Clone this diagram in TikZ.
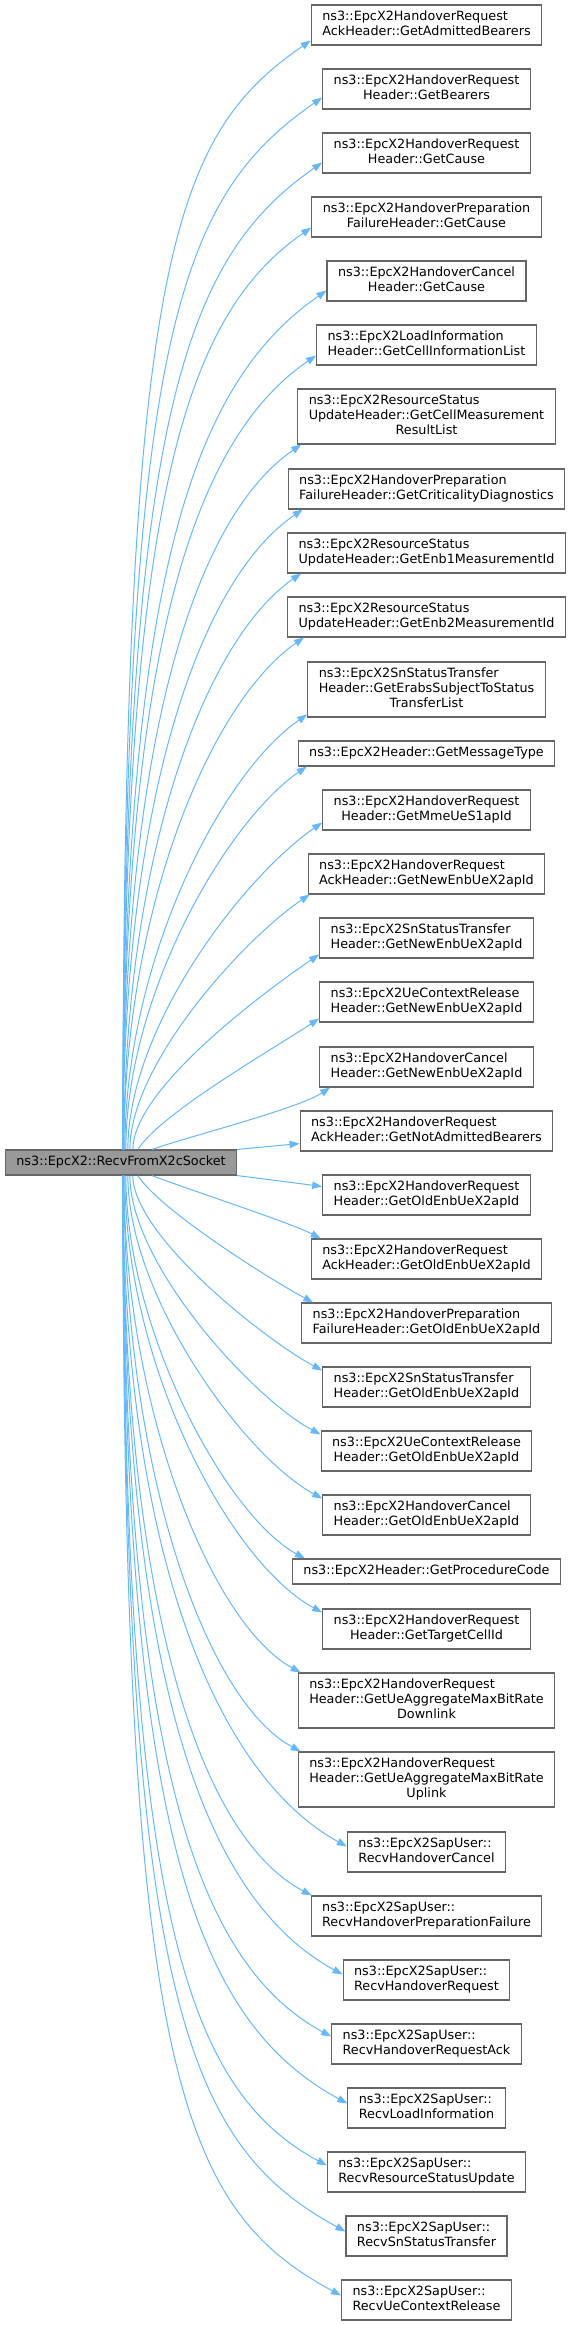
\documentclass[tikz,border=0pt]{standalone}
\usepackage{fontspec}
\setmainfont{DejaVu Sans}
\usetikzlibrary{arrows.meta,calc}
\definecolor{edgeblue}{HTML}{63B8FF}
\definecolor{nodeborder}{HTML}{666666}
\definecolor{mainfill}{HTML}{999999}
\newcommand\dxtwo[2]{\begin{tabular}{@{}l@{}}#1\\\multicolumn{1}{@{}c@{}}{#2}\end{tabular}}
\newcommand\dxone[1]{\begin{tabular}{@{}c@{}}#1\end{tabular}}
\begin{document}
\begin{tikzpicture}[x=0.75pt,y=-0.75pt,
  dxnode/.style={draw=nodeborder,fill=white,line width=0.8pt,inner xsep=8.25pt,inner ysep=3.75pt,
    font=\fontsize{9.58pt}{11.25pt}\selectfont},
  dxmain/.style={dxnode,fill=mainfill},
  dxedge/.style={draw=edgeblue,line width=0.75pt,-{Triangle[length=7.5pt,width=5.5pt]}}]
\useasboundingbox (0,0) rectangle (573,2325);
\node[dxmain] (m) at (121,1162.5) {\dxone{ns3::EpcX2::RecvFromX2cSocket}};
\node[dxnode] (b1) at (426.5,25) {\dxtwo{ns3::EpcX2HandoverRequest}{AckHeader::GetAdmittedBearers}};
\node[dxnode] (b2) at (426.5,89) {\dxtwo{ns3::EpcX2HandoverRequest}{Header::GetBearers}};
\node[dxnode] (b3) at (426.5,153) {\dxtwo{ns3::EpcX2HandoverRequest}{Header::GetCause}};
\node[dxnode] (b4) at (426.5,217) {\dxtwo{ns3::EpcX2HandoverPreparation}{FailureHeader::GetCause}};
\node[dxnode] (b5) at (426.5,281) {\dxtwo{ns3::EpcX2HandoverCancel}{Header::GetCause}};
\node[dxnode] (b6) at (426.5,345) {\dxtwo{ns3::EpcX2LoadInformation}{Header::GetCellInformationList}};
\node[dxnode] (b7) at (426.5,416.5) {\dxtwo{ns3::EpcX2ResourceStatus\\UpdateHeader::GetCellMeasurement}{ResultList}};
\node[dxnode] (b8) at (426.5,489) {\dxtwo{ns3::EpcX2HandoverPreparation}{FailureHeader::GetCriticalityDiagnostics}};
\node[dxnode] (b9) at (426.5,553) {\dxtwo{ns3::EpcX2ResourceStatus}{UpdateHeader::GetEnb1MeasurementId}};
\node[dxnode] (b10) at (426.5,617) {\dxtwo{ns3::EpcX2ResourceStatus}{UpdateHeader::GetEnb2MeasurementId}};
\node[dxnode] (b11) at (426.5,689.5) {\dxtwo{ns3::EpcX2SnStatusTransfer\\Header::GetErabsSubjectToStatus}{TransferList}};
\node[dxnode] (b12) at (426.5,753.5) {\dxone{ns3::EpcX2Header::GetMessageType}};
\node[dxnode] (b13) at (426.5,810) {\dxtwo{ns3::EpcX2HandoverRequest}{Header::GetMmeUeS1apId}};
\node[dxnode] (b14) at (426.5,874) {\dxtwo{ns3::EpcX2HandoverRequest}{AckHeader::GetNewEnbUeX2apId}};
\node[dxnode] (b15) at (426.5,938) {\dxtwo{ns3::EpcX2SnStatusTransfer}{Header::GetNewEnbUeX2apId}};
\node[dxnode] (b16) at (426.5,1002) {\dxtwo{ns3::EpcX2UeContextRelease}{Header::GetNewEnbUeX2apId}};
\node[dxnode] (b17) at (426.5,1067) {\dxtwo{ns3::EpcX2HandoverCancel}{Header::GetNewEnbUeX2apId}};
\node[dxnode] (b18) at (426.5,1131) {\dxtwo{ns3::EpcX2HandoverRequest}{AckHeader::GetNotAdmittedBearers}};
\node[dxnode] (b19) at (426.5,1195) {\dxtwo{ns3::EpcX2HandoverRequest}{Header::GetOldEnbUeX2apId}};
\node[dxnode] (b20) at (426.5,1259) {\dxtwo{ns3::EpcX2HandoverRequest}{AckHeader::GetOldEnbUeX2apId}};
\node[dxnode] (b21) at (426.5,1323) {\dxtwo{ns3::EpcX2HandoverPreparation}{FailureHeader::GetOldEnbUeX2apId}};
\node[dxnode] (b22) at (426.5,1387) {\dxtwo{ns3::EpcX2SnStatusTransfer}{Header::GetOldEnbUeX2apId}};
\node[dxnode] (b23) at (426.5,1451) {\dxtwo{ns3::EpcX2UeContextRelease}{Header::GetOldEnbUeX2apId}};
\node[dxnode] (b24) at (426.5,1515) {\dxtwo{ns3::EpcX2HandoverCancel}{Header::GetOldEnbUeX2apId}};
\node[dxnode] (b25) at (426.5,1571.5) {\dxone{ns3::EpcX2Header::GetProcedureCode}};
\node[dxnode] (b26) at (426.5,1629) {\dxtwo{ns3::EpcX2HandoverRequest}{Header::GetTargetCellId}};
\node[dxnode] (b27) at (426.5,1700.5) {\dxtwo{ns3::EpcX2HandoverRequest\\Header::GetUeAggregateMaxBitRate}{Downlink}};
\node[dxnode] (b28) at (426.5,1779.5) {\dxtwo{ns3::EpcX2HandoverRequest\\Header::GetUeAggregateMaxBitRate}{Uplink}};
\node[dxnode] (b29) at (426.5,1852) {\dxtwo{ns3::EpcX2SapUser::}{RecvHandoverCancel}};
\node[dxnode] (b30) at (426.5,1916) {\dxtwo{ns3::EpcX2SapUser::}{RecvHandoverPreparationFailure}};
\node[dxnode] (b31) at (426.5,1980) {\dxtwo{ns3::EpcX2SapUser::}{RecvHandoverRequest}};
\node[dxnode] (b32) at (426.5,2044) {\dxtwo{ns3::EpcX2SapUser::}{RecvHandoverRequestAck}};
\node[dxnode] (b33) at (426.5,2108) {\dxtwo{ns3::EpcX2SapUser::}{RecvLoadInformation}};
\node[dxnode] (b34) at (426.5,2172) {\dxtwo{ns3::EpcX2SapUser::}{RecvResourceStatusUpdate}};
\node[dxnode] (b35) at (426.5,2236) {\dxtwo{ns3::EpcX2SapUser::}{RecvSnStatusTransfer}};
\node[dxnode] (b36) at (426.5,2300) {\dxtwo{ns3::EpcX2SapUser::}{RecvUeContextRelease}};
% upper edges
\draw[dxedge] ($(m.north west)+(118,0)$) .. controls (123,262) and (171.4,136.3) .. ($(b1.south west)+(0,-5)$);
\draw[dxedge] ($(m.north west)+(118,0)$) .. controls (123,335) and (178.5,197.5) .. ($(b2.south west)+(0,-12)$);
\draw[dxedge] ($(m.north west)+(118,0)$) .. controls (123,420) and (183.1,259.2) .. ($(b3.south west)+(0,-11)$);
\draw[dxedge] ($(m.north west)+(118,0)$) .. controls (123,501) and (184.1,315.8) .. ($(b4.south west)+(0,-10)$);
\draw[dxedge] ($(m.north west)+(118,0)$) .. controls (123,575) and (193.8,382.5) .. ($(b5.south west)+(0,-11)$);
\draw[dxedge] ($(m.north west)+(118,0)$) .. controls (123,646) and (194.4,438.7) .. ($(b6.south west)+(0,-10)$);
\draw[dxedge] ($(m.north west)+(118,0)$) .. controls (123,737) and (195.5,517.2) .. ($(b7.south west)+(4,0)$);
\draw[dxedge] ($(m.north west)+(118,0)$) .. controls (123,797.5) and (200.5,578.7) .. ($(b8.south west)+(15,0)$);
\draw[dxedge] ($(m.north west)+(119,0)$) .. controls (124,853) and (206.1,638.7) .. ($(b9.south west)+(14,0)$);
\draw[dxedge] ($(m.north west)+(119,0)$) .. controls (124,904) and (212.9,700.1) .. ($(b10.south west)+(17,0)$);
\draw[dxedge] ($(m.north west)+(120,0)$) .. controls (125,959) and (222.5,772.2) .. ($(b11.south west)+(0,-3)$);
\draw[dxedge] ($(m.north west)+(121,0)$) .. controls (126,993) and (227.7,820.8) .. ($(b12.south west)+(9,0)$);
\draw[dxedge] ($(m.north west)+(123,0)$) .. controls (128,1026) and (244,876.6) .. ($(b13.south west)+(0,-8)$);
\draw[dxedge] ($(m.north west)+(125,0)$) .. controls (130,1063) and (244.8,938.2) .. ($(b14.south west)+(2,0)$);
\draw[dxedge] ($(m.north west)+(128,0)$) .. controls (133,1090) and (260.5,994.3) .. ($(b15.south west)+(0,-4)$);
\draw[dxedge] ($(m.north west)+(133,0)$) .. controls (160,1114) and (271.4,1049.9) .. ($(b16.south west)+(0,-4)$);
\draw[dxedge] ($(m.north west)+(147,0)$) .. controls (190,1136) and (297.8,1108.8) .. ($(b17.south west)+(11,0)$);
\draw[dxedge] (m.north east) -- ($(b18.south west)+(0,-8)$);
\draw[dxedge] (m.south east) -- ($(b19.north west)+(0,12)$);
% lower edges
\draw[dxedge] ($(m.south west)+(147,0)$) .. controls (190,1190) and (290.1,1222.6) .. ($(b20.north west)+(10,0)$);
\draw[dxedge] ($(m.south west)+(133,0)$) .. controls (160,1210) and (269,1278.8) .. ($(b21.north west)+(12,0)$);
\draw[dxedge] ($(m.south west)+(128,0)$) .. controls (133,1235) and (263.2,1338.7) .. ($(b22.north west)+(0,4)$);
\draw[dxedge] ($(m.south west)+(125,0)$) .. controls (130,1264) and (252,1397.6) .. ($(b23.north west)+(0,4)$);
\draw[dxedge] ($(m.south west)+(123,0)$) .. controls (128,1297) and (244.4,1456.3) .. ($(b24.north west)+(0,4)$);
\draw[dxedge] ($(m.south west)+(121,0)$) .. controls (126,1332) and (227.1,1516.2) .. ($(b25.north west)+(13,0)$);
\draw[dxedge] ($(m.south west)+(120,0)$) .. controls (125,1367) and (230.6,1562.7) .. ($(b26.north west)+(0,4)$);
\draw[dxedge] ($(m.south west)+(119,0)$) .. controls (124,1410) and (212.7,1625) .. ($(b27.north west)+(3,0)$);
\draw[dxedge] ($(m.south west)+(119,0)$) .. controls (124,1472) and (206.1,1700.4) .. ($(b28.north west)+(3,0)$);
\draw[dxedge] ($(m.south west)+(118,0)$) .. controls (123,1555.7) and (218,1776) .. ($(b29.north west)+(0,15)$);
\draw[dxedge] ($(m.south west)+(118,0)$) .. controls (123,1602.8) and (198.1,1835) .. ($(b30.north west)+(1,0)$);
\draw[dxedge] ($(m.south west)+(118,0)$) .. controls (123,1684) and (204.8,1899) .. ($(b31.north west)+(0,15)$);
\draw[dxedge] ($(m.south west)+(118,0)$) .. controls (123,1752.5) and (195,1962.7) .. ($(b32.north west)+(0,13)$);
\draw[dxedge] ($(m.south west)+(118,0)$) .. controls (123,1831.8) and (195.4,2020.6) .. ($(b33.north west)+(0,16)$);
\draw[dxedge] ($(m.south west)+(118,0)$) .. controls (123,1908.8) and (184.1,2088) .. ($(b34.north west)+(0,14)$);
\draw[dxedge] ($(m.south west)+(118,0)$) .. controls (123,1995.8) and (184.7,2143.8) .. ($(b35.north west)+(0,16)$);
\draw[dxedge] ($(m.south west)+(118,0)$) .. controls (123,2071.8) and (179.2,2208.1) .. ($(b36.north west)+(0,16)$);
\end{tikzpicture}
\end{document}
